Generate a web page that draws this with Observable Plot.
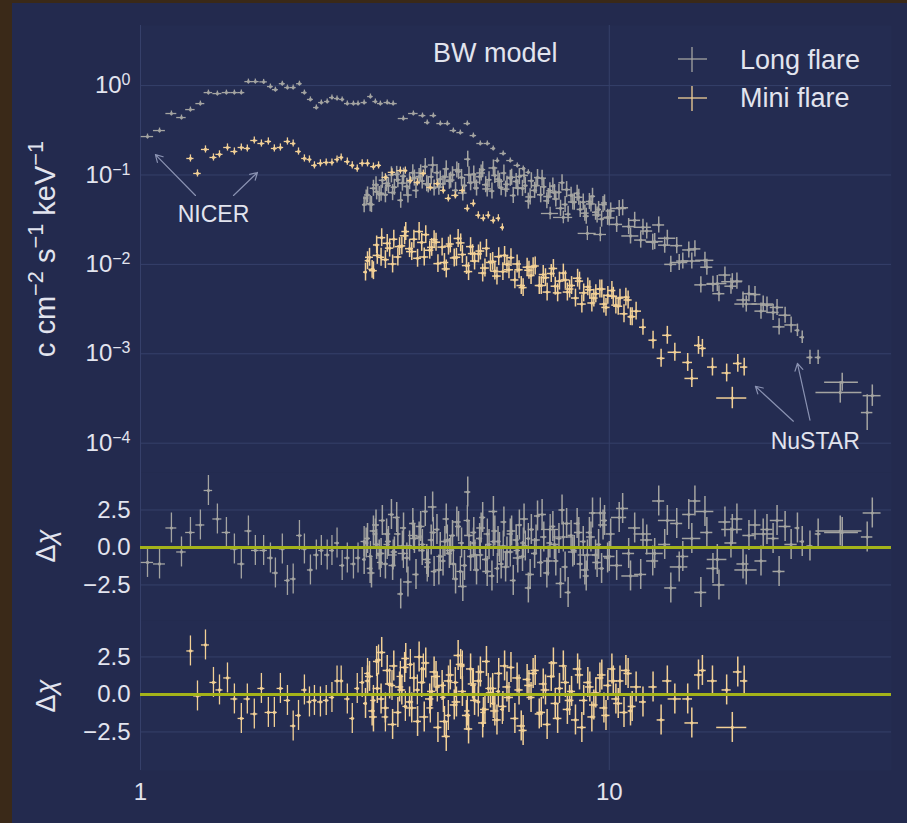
<!DOCTYPE html>
<html><head><meta charset="utf-8">
<script src="https://cdn.jsdelivr.net/npm/d3@7"></script>
<script src="https://cdn.jsdelivr.net/npm/@observablehq/plot@0.6"></script>
<style>
html,body{margin:0;padding:0;background:#3a2918;}
#fig{position:relative;width:907px;height:823px;overflow:hidden;background:#3a2918;}
#panel{position:absolute;left:12px;top:3px;right:0;bottom:0;background:#232a4e;}
#fig svg{position:absolute;left:0;}
.txt{position:absolute;color:#e2e4ee;font-family:"Liberation Sans",Arial,sans-serif;white-space:nowrap;line-height:1;}
.txt sup{font-size:0.75em;vertical-align:0.55em;line-height:0;}
</style></head><body><div id="fig"><div id="panel"></div></div>
<script>
// ---------- DATA (E keV, flux c/cm2/s/keV, residual Δχ, [half-width keV], [log10 error]) ----------
const longNicer = [
[1.035,0.269,-1.0],[1.098,0.314,-1.1],[1.164,0.487,1.3],[1.223,0.439,-0.3],[1.278,0.539,1.0],[1.342,0.629,1.5],[1.396,0.835,3.8],[1.459,0.814,1.9],[1.525,0.835,1.0],[1.586,0.835,-0.1],
[1.641,0.835,-1.1],[1.699,1.108,1.1],[1.758,1.108,-0.2],[1.831,1.10,-0.2],[1.893,0.975,-0.7],[1.940,0.90,-1.7],[2.007,1.05,-0.1],[2.058,0.95,-2.2],[2.117,0.95,-2.1],[2.183,1.05,0.8],
[2.237,0.835,-0.1],[2.304,0.70,-1.5],[2.372,0.568,-0.5],[2.431,0.646,-0.2],[2.502,0.663,-0.5],[2.561,0.734,-0.2],[2.626,0.716,0.3],[2.693,0.70,-1.2],[2.762,0.629,-0.7],[2.846,0.629,-1.1],
[2.911,0.629,-0.7],[3.000,0.646,0.4],[3.094,0.754,-0.6],[3.17,0.663,0.9],[3.249,0.629,-1.0],[3.36,0.646,0.2],[3.46,0.629,-0.5],[3.637,0.428,-0.4],[3.821,0.487,0.8],[3.995,0.462,0.2],
[4.09,0.386,-1.3],[4.215,0.462,1.0],[4.362,0.376,-0.6],[4.515,0.376,0.5],[4.65,0.314,-1.1],[4.812,0.298,-1.6],[4.98,0.376,1.8],[5.13,0.276,0.3],[5.308,0.225,-0.5],[5.494,0.225,0.9],
[5.657,0.198,0.4],[5.77,0.145,-1.4],[5.94,0.174,0.1],[6.15,0.145,-0.3],[6.366,0.128,-0.2],[6.556,0.118,0.3],[6.72,0.107,0.6,0.08],
[7.48,0.0371,1.2,null,0.07],[7.98,0.0335,0.7,null,0.07],[8.98,0.0222,-0.5,null,0.08],[9.57,0.0216,2.3,null,0.08]
];
const miniNicer = [
[1.278,0.153,2.9],[1.323,0.104,-0.1],[1.376,0.193,3.3],[1.431,0.157,0.8],[1.474,0.170,0.3],[1.533,0.203,1.1],[1.586,0.183,-0.3],[1.641,0.203,-1.6],[1.690,0.198,-0.3],[1.749,0.243,-1.3],
[1.811,0.225,0.4],[1.874,0.237,-1.2],[1.930,0.198,-1.2],[1.988,0.203,0.4],[2.058,0.237,-0.4],[2.117,0.225,-2.1],[2.173,0.183,-1.4],[2.237,0.153,0.3],[2.293,0.149,-0.5],[2.350,0.128,-0.4],
[2.420,0.135,-0.5],[2.490,0.138,-0.4],[2.561,0.138,-0.2],[2.626,0.149,0.9],[2.680,0.157,0.9],[2.762,0.141,-0.3],[2.830,0.128,-1.6],[2.900,0.118,0.4],[2.971,0.135,0.8],[3.05,0.135,1.4],
[3.14,0.124,-0.4],[3.22,0.128,2.3],[3.33,0.094,-1.5],[3.44,0.107,0.6],[3.584,0.112,1.2],[3.673,0.112,-0.8],[3.764,0.0869,2.0],[3.896,0.0826,0.3],[4.012,0.104,1.7],[4.152,0.0726,-0.9],
[4.297,0.080,0.5],[4.426,0.0672,-0.2],[4.536,0.0547,-1.4],[4.694,0.0591,0.8],[4.86,0.0672,1.9],[4.98,0.0422,-1.1],[5.13,0.0480,0.6],[5.256,0.0354,-0.5],[5.387,0.0328,-1.2],[5.52,0.0354,0.4],
[5.657,0.0310,-0.6],[5.8,0.0328,0.2],[5.915,0.0259,-1.0]
];
// NuSTAR FPMA
const longNustarA = [
[3.00,0.0465,-0.8],[3.05,0.0598,0.6],[3.09,0.0478,-1.4],[3.14,0.0710,1.1],[3.19,0.0648,0.2],[3.23,0.0606,-0.5],[3.28,0.0872,1.8],[3.33,0.0601,-1.1],[3.38,0.0761,0.4],[3.43,0.1003,2.2],
[3.48,0.0729,-0.3],[3.54,0.0883,0.9],[3.59,0.0522,-3.1],[3.64,0.0970,1.3],[3.70,0.0745,-0.7],[3.75,0.0842,0.1],[3.81,0.1060,1.6],[3.87,0.0671,-1.8],[3.93,0.0959,0.7],[3.99,0.0856,-0.2],
[4.05,0.1240,2.4],[4.11,0.0775,-1.0],[4.17,0.0954,0.5],[4.23,0.0714,-1.6],[4.29,0.1062,1.2],[4.36,0.0900,0.0],[4.42,0.0795,-0.9],[4.49,0.1170,1.9],[4.56,0.0851,-0.4],[4.63,0.1005,0.8],
[4.70,0.0673,-2.1],[4.77,0.1092,1.4],[4.84,0.0938,0.3],[4.91,0.0762,-1.2],[4.99,0.1501,3.7],[5.06,0.0819,-0.6],[5.14,0.1022,1.0],[5.21,0.0715,-1.5],[5.29,0.0957,0.6],[5.37,0.1147,2.0],
[5.45,0.0779,-0.8],[5.54,0.0884,0.2],[5.62,0.0661,-1.9],[5.70,0.0989,1.1],[5.79,0.0898,0.4],[5.88,0.0722,-1.1],[5.96,0.1050,1.7],[6.05,0.0786,-0.3],[6.15,0.0917,0.9],[6.24,0.0590,-2.2],
[6.33,0.0847,0.5],[6.43,0.0959,1.5],[6.53,0.0708,-0.6],[6.62,0.0761,0.1],[6.72,0.0510,-2.7],[6.82,0.0861,1.2],[6.93,0.0672,-0.4],[7.03,0.0936,2.1],[7.14,0.0601,-1.0],[7.25,0.0738,0.7],
[7.36,0.0514,-1.7],[7.47,0.0667,0.3],[7.58,0.0752,1.4],[7.69,0.0539,-0.9],[7.81,0.0641,0.6],[7.93,0.0820,2.5],[8.05,0.0468,-1.3],[8.17,0.0364,-3.0],[8.29,0.0592,0.8],[8.42,0.0496,-0.2],
[8.54,0.0624,1.6],[8.67,0.0412,-1.1],[8.80,0.0497,0.4],[8.93,0.0346,-1.9],[9.07,0.0505,1.0],[9.21,0.0577,2.3],[9.35,0.0383,-0.5],[9.49,0.0411,0.2],[9.63,0.0321,-1.4],[9.77,0.0487,1.8],
[9.92,0.0336,-0.7],[10.07,0.0396,0.9],[10.37,0.0280,-1.2],[10.68,0.0430,2.6],[11.00,0.0265,-0.4],[11.33,0.0311,1.3],[11.67,0.0187,-1.8],[12.02,0.0236,0.5],[12.38,0.0177,-0.9],[12.75,0.0276,3.1],
[13.13,0.0164,0.2],[13.53,0.0100,-2.7],[13.93,0.0162,1.6],[14.35,0.0109,-0.6],[14.78,0.0145,2.2],[15.23,0.0149,3.1],[15.68,0.0059,-3.0],[16.15,0.0093,1.0],[16.64,0.0060,-1.4],[17.14,0.0047,-2.5],
[17.65,0.0076,1.7],[18.18,0.0057,0.3],[18.72,0.0065,1.9],[19.29,0.0040,-1.1],[19.86,0.0047,0.8],[20.46,0.0046,1.5],[21.07,0.0030,-0.9],[21.70,0.0035,1.2],[22.36,0.0029,0.6],[23.03,0.0020,-1.6],
[23.72,0.0027,1.4],[24.43,0.0021,0.2],
[25.2,0.00183,1.3,0.3,0.07],[25.8,0.00153,0.4,0.3,0.07],[26.8,0.00091,0.1,0.4,0.08],[27.9,0.00091,0.9,0.4,0.08],
[31.1,0.00037,1.1,3.5,0.12],[31.4,0.00048,1.0,2.6,0.1],[35.5,0.00022,0.7,1.0,0.2],[36.4,0.00034,2.3,1.6,0.12]
];
// NuSTAR FPMB
const longNustarB = [
[3.03,0.0552,0.3],[3.11,0.0467,-1.7],[3.18,0.0775,1.5],[3.26,0.0624,-0.4],[3.35,0.0804,0.9],[3.45,0.0635,-1.2],[3.52,0.1015,2.0],[3.62,0.0811,0.1],[3.72,0.0597,-2.3],[3.84,0.0924,0.6],
[3.96,0.1055,1.4],[4.08,0.0797,-0.8],[4.20,0.1292,2.7],[4.33,0.0732,-1.5],[4.46,0.0951,0.4],[4.59,0.0876,-0.2],[4.73,0.1139,1.7],[4.87,0.0628,-2.6],[5.02,0.1005,0.8],[5.17,0.0830,-0.5],
[5.33,0.1053,1.3],[5.49,0.0698,-1.6],[5.66,0.1198,2.4],[5.83,0.0850,0.0],[6.01,0.0694,-1.3],[6.19,0.0943,1.1],[6.38,0.0717,-0.7],[6.58,0.0988,1.9],[6.78,0.0569,-1.8],[6.98,0.0761,0.5],
[7.19,0.0921,2.2],[7.41,0.0574,-0.9],[7.64,0.0637,0.2],[7.87,0.0424,-2.4],[8.11,0.0686,1.6],[8.36,0.0499,-0.3],[8.61,0.0563,1.0],[8.87,0.0374,-1.5],[9.14,0.0474,0.7],[9.42,0.0357,-1.0],
[9.70,0.0467,1.5],[10.0,0.0331,-0.6],[10.5,0.0422,2.0],[11.1,0.0208,-1.9],[11.8,0.0260,0.9],[12.5,0.0180,-0.4],[13.3,0.0196,1.8],[14.1,0.0105,-1.3],[15.0,0.0109,0.6],[16.0,0.0111,2.4],
[17.0,0.0061,-0.8],[18.3,0.0064,1.2],[19.6,0.0036,-1.5],[21.3,0.0036,0.9],[22.8,0.0033,1.8]
];
const miniNustarA = [
[3.02,0.0082,-0.6],[3.08,0.0120,1.2],[3.14,0.0085,-1.5],[3.20,0.0126,0.4],[3.27,0.0199,2.8],[3.33,0.0113,-0.9],[3.40,0.0152,0.7],[3.47,0.0191,1.9],[3.54,0.0121,-1.2],[3.61,0.0161,0.3],
[3.68,0.0233,2.4],[3.75,0.0150,-0.5],[3.83,0.0191,1.1],[3.90,0.0117,-1.8],[3.98,0.0176,0.8],[4.06,0.0215,2.1],[4.14,0.0144,-0.3],[4.23,0.0189,1.5],[4.31,0.0102,-2.2],[4.40,0.0156,0.6],
[4.49,0.0089,-2.8],[4.58,0.0169,1.3],[4.67,0.0118,-0.7],[4.76,0.0195,2.6],[4.86,0.0129,0.2],[4.96,0.0097,-1.4],[5.06,0.0158,1.7],[5.16,0.0109,-0.4],[5.26,0.0131,0.9],[5.37,0.0080,-1.9],
[5.47,0.0151,2.2],[5.58,0.0105,0.1],[5.70,0.0084,-1.1],[5.81,0.0122,1.4],[5.93,0.0083,-0.8],[6.05,0.0100,0.5],[6.17,0.0119,1.8],[6.29,0.0067,-1.6],[6.42,0.0087,0.3],[6.55,0.0055,-2.4],
[6.68,0.0093,1.0],[6.81,0.0075,-0.2],[6.95,0.0096,1.6],[7.09,0.0058,-1.3],[7.23,0.0077,0.7],[7.37,0.0049,-2.0],[7.52,0.0079,1.2],[7.67,0.0057,-0.6],[7.83,0.0065,0.4],[7.98,0.0080,1.9],
[8.14,0.0049,-1.0],[8.31,0.0058,0.2],[8.47,0.0042,-1.7],[8.64,0.0065,1.3],[8.82,0.0048,-0.4],[9.00,0.0056,0.8],[9.18,0.0037,-1.5],[9.36,0.0047,0.1],[9.55,0.0053,1.1],[9.74,0.0036,-0.9],
[9.93,0.0045,0.6],[10.13,0.0051,1.7],[10.33,0.0035,-0.3],[10.54,0.0042,0.9],[10.75,0.0028,-1.2],[10.97,0.0040,1.4],[11.19,0.0026,-0.8],[11.41,0.0030,0.5],
[11.8,0.00198,-0.5,0.2,0.09],[12.4,0.00142,0.5,0.25,0.1],[12.9,0.00089,-1.7,0.25,0.1],[13.3,0.00161,0.9,0.3,0.1],[13.8,0.00104,-0.3,0.45,0.1],
[14.7,0.00080,-0.3,0.35,0.1],[15.0,0.00053,-1.9,0.5,0.1],[15.5,0.00124,1.3,0.3,0.1],[15.8,0.00115,1.6,0.3,0.1],[16.6,0.00071,0.9,0.4,0.1],
[17.8,0.00061,0.3,0.4,0.1],[18.3,0.00032,-2.2,1.35,0.12],[18.8,0.00078,1.5,0.4,0.1],[19.4,0.00071,0.9,0.35,0.1]
];
const miniNustarB = [
[3.05,0.0110,0.9],[3.12,0.0088,-1.1],[3.19,0.0165,2.2],[3.26,0.0120,-0.3],[3.36,0.0172,1.6],[3.45,0.0101,-2.0],[3.57,0.0158,0.5],[3.66,0.0209,1.8],[3.79,0.0139,-0.9],[3.93,0.0233,2.5],
[4.03,0.0121,-1.5],[4.18,0.0155,0.2],[4.27,0.0177,1.2],[4.45,0.0105,-1.8],[4.54,0.0160,0.9],[4.72,0.0120,-0.5],[4.82,0.0174,2.0],[5.01,0.0083,-2.3],[5.11,0.0132,0.7],[5.31,0.0141,1.5],
[5.43,0.0091,-1.0],[5.64,0.0108,0.4],[5.76,0.0074,-1.7],[5.98,0.0126,1.9],[6.11,0.0087,-0.2],[6.36,0.0101,1.1],[6.49,0.0058,-2.1],[6.74,0.0086,0.6],[6.88,0.0094,1.4],[7.16,0.0058,-1.2],
[7.31,0.0071,0.3],[7.60,0.0090,2.1],[7.76,0.0048,-1.6],[8.06,0.0067,0.8],[8.23,0.0053,-0.4],[8.56,0.0070,1.7],[8.74,0.0036,-2.2],[9.09,0.0052,0.5],[9.27,0.0042,-0.7],[9.64,0.0053,1.3],
[9.84,0.0033,-1.4],[10.2,0.0044,0.9],[10.45,0.0034,-0.6],[10.85,0.0043,1.6],[11.1,0.0026,-1.1]
];
const seriesNames = ["Long flare", "Mini flare"];
const xTicks = [1, 10];
const yTicksTop = [1e-4, 1e-3, 1e-2, 1e-1, 1];
const resTicks = [-2.5, 0, 2.5];
const annotTexts = [{E:1.431, F:0.0362, label:"NICER"}, {E:27.5, F:0.000105, label:"NuSTAR"}];
const annotArrows = [
  {E1:1.31, F1:0.059, E2:1.076, F2:0.169},
  {E1:1.579, F1:0.059, E2:1.776, F2:0.1066},
  {E1:24.7, F1:0.000176, E2:20.5, F2:0.000433},
  {E1:26.8, F1:0.000181, E2:25.2, F2:0.00078}
];

// ---------- helpers ----------
function prep(rows, sig, k) {
  const out = rows.map(r => ({E:r[0], F:r[1], r:r[2], hw:(r[3] ?? null), sig:(r[4] ?? sig)}));
  out.forEach((d, i) => {
    if (d.hw == null) {
      const p = out[i-1], n = out[i+1];
      d.hw = p && n ? (n.E - p.E) / k : p ? (d.E - p.E) / 2 : (n.E - d.E) / 2;
    }
  });
  return out;
}
const LN = prep(longNicer, 0.028, 4), MN = prep(miniNicer, 0.04, 4);
const LSA = prep(longNustarA, 0.09, 2.0), LSB = prep(longNustarB, 0.09, 2.8);
const MSA = prep(miniNustarA, 0.1, 2.0), MSB = prep(miniNustarB, 0.1, 2.8);

const GREY = "#a4a4a1", TAN = "#f2d096";
const GRID = "#36406a", AXFILL = "#242c51", ZERO = "#a4b31a", TEXT = "#e2e4ee", ARROW = "#8a92b2";
const W = 907, ML = 140, MR = 16;
const FONT = '"Liberation Sans", Arial, sans-serif';
const plotStyle = {background:"transparent", color:TEXT, fontFamily:FONT, fontSize:"24px", overflow:"visible"};
const xOpt = {type:"log", domain:[1, 40], axis:null};

function specMarks(d, c, sw) {
  return [
    Plot.ruleY(d, {y:"F", x1:v => v.E - v.hw, x2:v => v.E + v.hw, stroke:c, strokeWidth:sw}),
    Plot.ruleX(d, {x:"E", y1:v => v.F / 10 ** v.sig, y2:v => v.F * 10 ** v.sig, stroke:c, strokeWidth:sw}),
    Plot.dot(d, {x:"E", y:"F", r:1.6, fill:c})
  ];
}
function resMarks(d, c, sw) {
  return [
    Plot.ruleY(d, {y:"r", x1:v => v.E - v.hw, x2:v => v.E + v.hw, stroke:c, strokeWidth:sw}),
    Plot.ruleX(d, {x:"E", y1:v => v.r - 1, y2:v => v.r + 1, stroke:c, strokeWidth:sw}),
    Plot.dot(d, {x:"E", y:"r", r:1.6, fill:c})
  ];
}
const powFmt = d => "10^" + String(Math.round(Math.log10(d))).replace("-", "\u2212");
const resFmt = d => d.toFixed(1).replace("-", "\u2212");

// ---------- top: spectrum ----------
const specPlot = Plot.plot({
  width:W, height:472, marginLeft:ML, marginRight:MR, marginTop:25, marginBottom:0,
  style:plotStyle, x:xOpt, y:{type:"log", domain:[4.7e-5, 4.7], axis:null},
  marks:[
    Plot.frame({fill:AXFILL, stroke:"none"}),
    Plot.gridY(yTicksTop, {stroke:GRID, strokeOpacity:1}),
    Plot.gridX(xTicks, {stroke:GRID, strokeOpacity:1}),
    Plot.axisY(yTicksTop, {tickSize:0, tickPadding:10, tickFormat:powFmt, label:null}),
    ...specMarks(LSA, GREY, 1.5),
    ...specMarks(LSB, GREY, 1.5),
    ...specMarks(LN, GREY, 1.3),
    ...specMarks(MSA, TAN, 1.5),
    ...specMarks(MSB, TAN, 1.5),
    ...specMarks(MN, TAN, 1.3),
    Plot.arrow(annotArrows, {x1:"E1", y1:"F1", x2:"E2", y2:"F2", stroke:ARROW, strokeWidth:1.2, headLength:10}),
    Plot.text(annotTexts, {x:"E", y:"F", text:"label", fontSize:23, fill:TEXT})
  ]
});
specPlot.style.top = "0px";
const SVGNS = "http://www.w3.org/2000/svg";
specPlot.querySelectorAll('g[aria-label="y-axis tick label"] text').forEach(t => {
  const s = t.textContent;
  if (!s.includes("^")) return;
  const [b, e] = s.split("^");
  t.textContent = "";
  const t1 = document.createElementNS(SVGNS, "tspan"); t1.textContent = b;
  const t2 = document.createElementNS(SVGNS, "tspan"); t2.textContent = e;
  t2.setAttribute("dy", "-0.5em"); t2.setAttribute("font-size", "16");
  t.append(t1, t2);
});

// ---------- middle: long flare residuals ----------
const midPlot = Plot.plot({
  width:W, height:148, marginLeft:ML, marginRight:MR, marginTop:0, marginBottom:0,
  style:plotStyle, x:xOpt, y:{domain:[-4.87, 5], axis:null},
  marks:[
    Plot.frame({fill:AXFILL, stroke:"none"}),
    Plot.gridY(resTicks, {stroke:GRID, strokeOpacity:1}),
    Plot.gridX(xTicks, {stroke:GRID, strokeOpacity:1}),
    Plot.axisY(resTicks, {tickSize:0, tickPadding:10, tickFormat:resFmt, label:null}),
    ...resMarks(LN, GREY, 1.3),
    ...resMarks(LSA, GREY, 1.5),
    ...resMarks(LSB, GREY, 1.5),
    Plot.ruleY([0], {stroke:ZERO, strokeWidth:3})
  ]
});
midPlot.style.top = "472px";

// ---------- bottom: mini flare residuals ----------
const botPlot = Plot.plot({
  width:W, height:200, marginLeft:ML, marginRight:MR, marginTop:0, marginBottom:50,
  style:plotStyle, x:xOpt, y:{domain:[-5.07, 4.93], axis:null},
  marks:[
    Plot.frame({fill:AXFILL, stroke:"none"}),
    Plot.gridY(resTicks, {stroke:GRID, strokeOpacity:1}),
    Plot.gridX(xTicks, {stroke:GRID, strokeOpacity:1}),
    Plot.axisY(resTicks, {tickSize:0, tickPadding:10, tickFormat:resFmt, label:null}),
    Plot.axisX(xTicks, {tickSize:0, tickPadding:12, tickFormat:d => String(d), label:null}),
    ...resMarks(MN, TAN, 1.3),
    ...resMarks(MSA, TAN, 1.5),
    ...resMarks(MSB, TAN, 1.5),
    Plot.ruleY([0], {stroke:ZERO, strokeWidth:3})
  ]
});
botPlot.style.top = "620px";

const fig = document.getElementById("fig");
fig.append(specPlot, midPlot, botPlot);

// ---------- texts & legend ----------
function addText(html, css) {
  const d = document.createElement("div");
  d.className = "txt"; d.innerHTML = html; d.style.cssText += css;
  fig.appendChild(d);
}
addText("BW model", "left:433px;top:40px;font-size:27px;");
addText(seriesNames[0], "left:740px;top:47px;font-size:27px;");
addText(seriesNames[1], "left:740px;top:85px;font-size:27px;");
addText("c cm<sup>\u22122</sup> s<sup>\u22121</sup> keV<sup>\u22121</sup>", "left:45px;top:249px;font-size:29px;transform:translate(-50%,-50%) rotate(-90deg);");
addText("\u0394<i>\u03c7</i>", "left:46px;top:546px;font-size:27px;transform:translate(-50%,-50%) rotate(-90deg);");
addText("\u0394<i>\u03c7</i>", "left:46px;top:696px;font-size:27px;transform:translate(-50%,-50%) rotate(-90deg);");

const leg = document.createElementNS(SVGNS, "svg");
leg.setAttribute("width", W); leg.setAttribute("height", 130);
leg.style.top = "0px"; leg.style.pointerEvents = "none";
[[59, GREY], [98, TAN]].forEach(([cy, c]) => {
  [[678, cy, 707, cy], [692, cy - 12, 692, cy + 13]].forEach(([a, b, e, f]) => {
    const l = document.createElementNS(SVGNS, "line");
    l.setAttribute("x1", a); l.setAttribute("y1", b); l.setAttribute("x2", e); l.setAttribute("y2", f);
    l.setAttribute("stroke", c); l.setAttribute("stroke-width", 1.3);
    leg.appendChild(l);
  });
});
fig.appendChild(leg);
</script></body></html>
